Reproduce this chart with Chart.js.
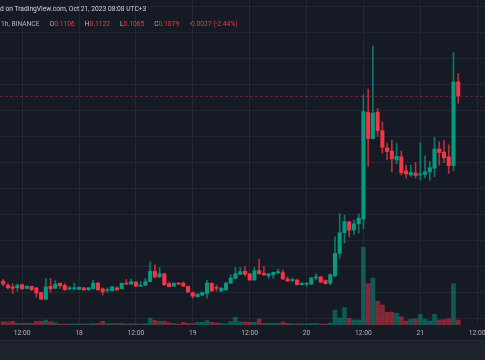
<!DOCTYPE html>
<html>
<head>
<meta charset="utf-8">
<script src="https://cdn.jsdelivr.net/npm/chart.js@4.4.0/dist/chart.umd.min.js"></script>
<style>
  html, body { margin: 0; padding: 0; background: #161a25; }
  #tela { position: relative; width: 485px; height: 360px; overflow: hidden; background: #161a25; font-family: Roboto, sans-serif; }
  #grafico { position: absolute; left: 0; top: 0; }
  .topo { position: absolute; left: 0; white-space: nowrap; font-size: 6.7px; line-height: 8px; }
  #linha1 { top: 5px; color: #d1d4dc; }
  #linha2 { top: 20px; left: 1px; color: #b2b5be; }
  #linha2 b { font-weight: normal; margin-left: 10px; }
  #linha2 span { color: #f23645; }
  #rodape { position: absolute; left: 0; top: 340px; width: 485px; height: 20px; background: #1e222d; border-top: 1px solid #262a35; }
</style>
</head>
<body>
<div id="tela">
  <canvas id="grafico" width="485" height="340"></canvas>
  <div class="topo" id="linha1">d on TradingView.com, Oct 21, 2023 08:08 UTC+3</div>
  <div class="topo" id="linha2">1h, BINANCE<b>O</b><span>0.1106</span><b>H</b><span>0.1122</span><b>L</b><span>0.1065</span><b>C</b><span>0.1079</span><b></b><span>-0.0027 (-2.44%)</span></div>
  <div id="rodape"></div>
</div>
<script>
// Velas de 1h, primeira vela = 17 08:00 (hora -16 em relação ao dia 18 00:00)
const primeiraHora = -16;

const abertura = [
  0.0723, 0.0715, 0.0712, 0.0710, 0.0716, 0.0709, 0.0713, 0.0710, 0.0701, 0.0688,
  0.0713, 0.0709, 0.0719, 0.0715, 0.0708, 0.0708, 0.0707, 0.0710, 0.0706, 0.0708,
  0.0719, 0.0708, 0.0705, 0.0704, 0.0710, 0.0708, 0.0719, 0.0717, 0.0721, 0.0713,
  0.0715, 0.0722, 0.0742, 0.0731, 0.0737, 0.0718, 0.0713, 0.0719, 0.0719, 0.0713,
  0.0701, 0.0693, 0.0696, 0.0699, 0.0719, 0.0711, 0.0704, 0.0706, 0.0719, 0.0728,
  0.0736, 0.0742, 0.0737, 0.0725, 0.0743, 0.0738, 0.0733, 0.0735, 0.0739, 0.0739,
  0.0727, 0.0724, 0.0725, 0.0716, 0.0717, 0.0717, 0.0729, 0.0731, 0.0724, 0.0719,
  0.0733, 0.0776, 0.0816, 0.0837, 0.0821, 0.0833, 0.0842, 0.1047, 0.0997, 0.1048,
  0.1012, 0.0979, 0.0973, 0.0956, 0.0962, 0.0935, 0.0927, 0.0931, 0.0927, 0.0928,
  0.0933, 0.0940, 0.0977, 0.0971, 0.0962, 0.0945, 0.1106
];
const maxima = [
  0.0726, 0.0718, 0.0718, 0.0717, 0.0717, 0.0714, 0.0713, 0.0710, 0.0701, 0.0728,
  0.0728, 0.0724, 0.0719, 0.0718, 0.0713, 0.0719, 0.0712, 0.0711, 0.0711, 0.0725,
  0.0721, 0.0710, 0.0710, 0.0713, 0.0712, 0.0719, 0.0726, 0.0727, 0.0722, 0.0722,
  0.0728, 0.0760, 0.0754, 0.0749, 0.0738, 0.0721, 0.0719, 0.0720, 0.0721, 0.0713,
  0.0702, 0.0698, 0.0702, 0.0725, 0.0719, 0.0715, 0.0711, 0.0721, 0.0735, 0.0749,
  0.0749, 0.0751, 0.0738, 0.0749, 0.0765, 0.0751, 0.0737, 0.0740, 0.0746, 0.0744,
  0.0731, 0.0729, 0.0727, 0.0719, 0.0720, 0.0730, 0.0737, 0.0732, 0.0725, 0.0737,
  0.0808, 0.0853, 0.0850, 0.0838, 0.0840, 0.0852, 0.1081, 0.1092, 0.1175, 0.1055,
  0.1029, 0.0988, 0.0994, 0.0988, 0.0973, 0.0946, 0.0946, 0.0951, 0.0989, 0.0964,
  0.0953, 0.0999, 0.0991, 0.0993, 0.0985, 0.1162, 0.1122
];
const minima = [
  0.0714, 0.0708, 0.0699, 0.0704, 0.0707, 0.0708, 0.0705, 0.0692, 0.0688, 0.0687,
  0.0702, 0.0708, 0.0709, 0.0705, 0.0706, 0.0706, 0.0706, 0.0705, 0.0705, 0.0708,
  0.0705, 0.0696, 0.0701, 0.0704, 0.0705, 0.0708, 0.0717, 0.0717, 0.0713, 0.0713,
  0.0714, 0.0722, 0.0729, 0.0729, 0.0714, 0.0712, 0.0713, 0.0716, 0.0713, 0.0701,
  0.0690, 0.0692, 0.0695, 0.0690, 0.0703, 0.0704, 0.0702, 0.0705, 0.0718, 0.0727,
  0.0735, 0.0733, 0.0724, 0.0724, 0.0736, 0.0734, 0.0728, 0.0728, 0.0737, 0.0726,
  0.0722, 0.0721, 0.0715, 0.0715, 0.0713, 0.0716, 0.0725, 0.0720, 0.0717, 0.0716,
  0.0731, 0.0767, 0.0796, 0.0808, 0.0812, 0.0815, 0.0824, 0.0944, 0.0996, 0.1001,
  0.0969, 0.0956, 0.0933, 0.0948, 0.0927, 0.0921, 0.0924, 0.0921, 0.0917, 0.0922,
  0.0917, 0.0924, 0.0946, 0.0951, 0.0930, 0.0935, 0.1065
];
const fechamento = [
  0.0717, 0.0710, 0.0709, 0.0715, 0.0708, 0.0713, 0.0706, 0.0700, 0.0688, 0.0712,
  0.0708, 0.0717, 0.0714, 0.0706, 0.0710, 0.0710, 0.0711, 0.0706, 0.0710, 0.0719,
  0.0706, 0.0702, 0.0707, 0.0712, 0.0706, 0.0719, 0.0717, 0.0722, 0.0713, 0.0715,
  0.0722, 0.0742, 0.0731, 0.0737, 0.0716, 0.0712, 0.0719, 0.0717, 0.0713, 0.0702,
  0.0694, 0.0698, 0.0701, 0.0719, 0.0704, 0.0709, 0.0709, 0.0719, 0.0729, 0.0737,
  0.0741, 0.0736, 0.0725, 0.0743, 0.0737, 0.0735, 0.0737, 0.0740, 0.0741, 0.0727,
  0.0723, 0.0726, 0.0716, 0.0719, 0.0719, 0.0729, 0.0731, 0.0721, 0.0718, 0.0735,
  0.0776, 0.0816, 0.0837, 0.0821, 0.0833, 0.0844, 0.1049, 0.0997, 0.1046, 0.1012,
  0.0980, 0.0972, 0.0958, 0.0963, 0.0931, 0.0929, 0.0932, 0.0926, 0.0929, 0.0933,
  0.0941, 0.0977, 0.0970, 0.0960, 0.0945, 0.1106, 0.1079
];
// Volume (milhões)
const volume = [
  0.33, 0.30, 0.37, 0.20, 0.17, 0.20, 0.17, 0.37, 0.37, 0.50,
  0.33, 0.23, 0.10, 0.10, 0.10, 0.10, 0.10, 0.10, 0.10, 0.15,
  0.15, 0.37, 0.15, 0.15, 0.15, 0.15, 0.10, 0.13, 0.13, 0.10,
  0.13, 0.70, 0.47, 0.37, 0.37, 0.23, 0.17, 0.10, 0.27, 0.17,
  0.13, 0.27, 0.27, 0.43, 0.27, 0.20, 0.17, 0.13, 0.33, 0.77,
  0.33, 0.30, 0.27, 0.27, 0.60, 0.17, 0.17, 0.17, 0.17, 0.30,
  0.17, 0.13, 0.13, 0.13, 0.13, 0.17, 0.17, 0.10, 0.10, 0.20,
  1.50, 0.70, 1.73, 0.67, 0.50, 0.50, 7.77, 4.13, 4.70, 2.37,
  2.00, 1.27, 1.30, 1.17, 0.83, 0.40, 0.57, 0.60, 1.07, 0.57,
  0.40, 1.07, 0.50, 0.53, 0.63, 4.13, 0.50
];
// Rótulos do eixo X (horas em relação ao dia 18 00:00)
const horasRotulos = [-12, 0, 12, 24, 36, 48, 60, 72, 84];
const rotulosX = ['12:00', '18', '12:00', '19', '12:00', '20', '12:00', '21', '12:00'];

const verde = '#089981';
const vermelho = '#f23645';
const corGrade = 'rgba(54, 58, 72, 0.4)';

const horas = abertura.map((_, i) => primeiraHora + i);
const alta = abertura.map((o, i) => fechamento[i] >= o);

// Linha tracejada do último preço
const linhaPreco = {
  id: 'linhaPreco',
  beforeDatasetsDraw(chart) {
    const { ctx, chartArea, scales } = chart;
    const y = Math.round(scales.y.getPixelForValue(fechamento[fechamento.length - 1])) + 0.5;
    ctx.save();
    ctx.strokeStyle = 'rgba(242, 54, 69, 0.35)';
    ctx.lineWidth = 1;
    ctx.setLineDash([3, 2]);
    ctx.beginPath();
    ctx.moveTo(chartArea.left, y);
    ctx.lineTo(chartArea.right, y);
    ctx.stroke();
    ctx.restore();
  }
};

new Chart(document.getElementById('grafico'), {
  type: 'bar',
  data: {
    datasets: [
      {
        // pavios
        data: horas.map((h, i) => ({ x: h, y: [minima[i], maxima[i]] })),
        backgroundColor: alta.map(a => a ? 'rgba(8,153,129,0.75)' : 'rgba(242,54,69,0.75)'),
        barThickness: 1,
        minBarLength: 1,
        grouped: false,
        order: 2
      },
      {
        // corpos
        data: horas.map((h, i) => ({ x: h, y: [abertura[i], fechamento[i]] })),
        backgroundColor: alta.map(a => a ? verde : vermelho),
        barThickness: 3.4,
        minBarLength: 1,
        grouped: false,
        order: 1
      },
      {
        // volume
        data: horas.map((h, i) => ({ x: h, y: volume[i] })),
        backgroundColor: alta.map(a => a ? 'rgba(8,153,129,0.5)' : 'rgba(242,54,69,0.5)'),
        barThickness: 4,
        grouped: false,
        yAxisID: 'vol',
        order: 3
      }
    ]
  },
  options: {
    responsive: false,
    animation: false,
    devicePixelRatio: 1,
    layout: { padding: 0 },
    plugins: {
      legend: { display: false },
      tooltip: { enabled: false }
    },
    scales: {
      x: {
        type: 'linear',
        min: -16.67,
        max: 85.65,
        offset: false,
        grid: { color: corGrade, drawTicks: false, offset: false },
        border: { display: false },
        ticks: {
          color: '#b2b5be',
          font: { family: 'Roboto', size: 6.7 },
          padding: 4,
          autoSkip: false,
          maxRotation: 0,
          callback: (v, i) => rotulosX[i]
        },
        afterBuildTicks: s => { s.ticks = horasRotulos.map(v => ({ value: v })); },
        afterFit: s => { s.height = 15; s.paddingLeft = 0; s.paddingRight = 0; }
      },
      y: {
        position: 'right',
        min: 0.063846,
        max: 0.126346,
        grid: { color: corGrade, drawTicks: false },
        border: { display: false },
        ticks: { display: false },
        afterBuildTicks: s => {
          const t = [];
          for (let k = Math.ceil(s.min / 0.005); k * 0.005 <= s.max; k++) t.push({ value: k * 0.005 });
          s.ticks = t;
        },
        afterFit: s => { s.width = 0; }
      },
      vol: {
        display: false,
        min: 0,
        max: 32.5
      }
    }
  },
  plugins: [linhaPreco]
});
</script>
</body>
</html>
